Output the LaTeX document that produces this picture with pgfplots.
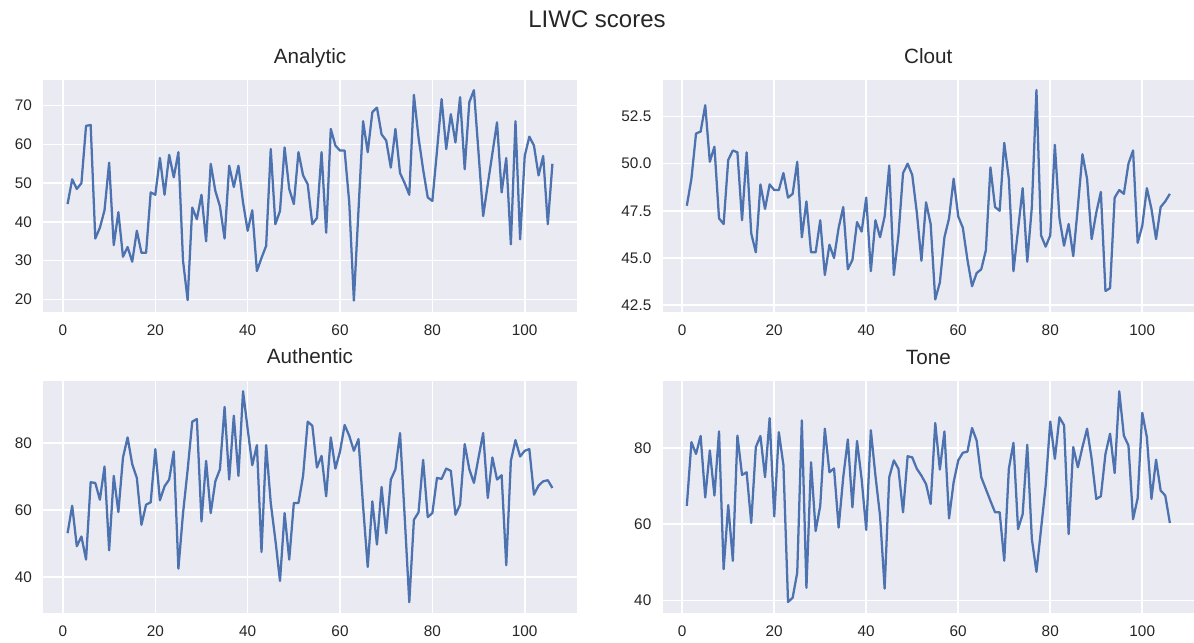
\documentclass[border=0pt]{standalone}
\usepackage{fontspec}
\setmainfont{Liberation Sans}
\usepackage{pgfplots}
\pgfplotsset{compat=1.18}
\definecolor{bgc}{HTML}{EAEAF2}
\definecolor{lc}{HTML}{4C72B0}
\definecolor{tc}{HTML}{262626}
\pgfplotsset{liwc/.style={
 scale only axis, width=400pt, height=174pt, anchor=south west,
 axis background/.style={fill=bgc},
 axis line style={draw=none},
 major tick length=0pt,
 grid=major, major grid style={white, line width=1.2pt},
 xmin=-4.25, xmax=111.25, xtick={0,20,...,100},
 tick label style={font=\fontsize{11.5}{13}\selectfont, text=tc},
 /pgf/number format/assume math mode=true,
 xticklabel style={yshift=-6.5pt},
 yticklabel style={xshift=-5pt},
 title style={font=\fontsize{15.5}{18}\selectfont, text=tc, at={(0.5,1)}, anchor=base, yshift=6.5pt},
 cycle list={{lc, mark=none}},
 every axis plot/.append style={line width=1.7pt, line join=round},
}}
\begin{document}
\begin{tikzpicture}
\useasboundingbox (0,0) rectangle (895.5pt,481.5pt);
\node[font=\fontsize{18}{21}\selectfont, text=tc, anchor=base] at (447.75pt,461pt) {LIWC scores};

\begin{axis}[liwc, at={(32.5pt,247.7pt)}, title={Analytic}, ymin=16.8, ymax=76.7, ytick={20,30,...,70}]
\addplot coordinates {(1,44.6)(2,51)(3,48.5)(4,50)(5,64.8)(6,65)(7,35.7)(8,38.5)(9,43)(10,55.3)
(11,34)(12,42.5)(13,31)(14,33.5)(15,29.7)(16,37.7)(17,32)(18,32)(19,47.6)(20,47)
(21,56.5)(22,47)(23,57.3)(24,51.5)(25,58)(26,30)(27,19.8)(28,43.7)(29,40.7)(30,47)
(31,35)(32,55)(33,48)(34,44)(35,35.7)(36,54.5)(37,49)(38,54.5)(39,45)(40,37.7)
(41,43)(42,27.3)(43,30.7)(44,33.8)(45,58.8)(46,39.4)(47,42.8)(48,59.2)(49,48.5)(50,44.6)
(51,58)(52,52)(53,49.7)(54,39.4)(55,41)(56,58)(57,37.2)(58,64)(59,59.7)(60,58.4)
(61,58.4)(62,45)(63,19.7)(64,43)(65,66)(66,58)(67,68.3)(68,69.5)(69,62.6)(70,61)
(71,54)(72,64)(73,52.6)(74,50)(75,47)(76,72.8)(77,61.8)(78,53.5)(79,46.3)(80,45.4)
(81,58.3)(82,71.7)(83,58.8)(84,67.8)(85,60.5)(86,72.2)(87,53.6)(88,70.9)(89,74)(90,57.8)
(91,41.5)(92,49.7)(93,57.7)(94,65.7)(95,47.6)(96,56.5)(97,34.2)(98,66)(99,35.5)(100,57)
(101,62)(102,59.7)(103,52)(104,57)(105,39.4)(106,55)};
\end{axis}

\begin{axis}[liwc, width=398.5pt, at={(497pt,247.7pt)}, title={Clout}, ymin=42.15, ymax=54.45,
 ytick={42.5,45,47.5,50,52.5}, yticklabels={42.5,45.0,47.5,50.0,52.5}]
\addplot coordinates {(1,47.77)(2,49.2)(3,51.6)(4,51.7)(5,53.1)(6,50.1)(7,50.9)(8,47.1)(9,46.8)(10,50.2)
(11,50.7)(12,50.6)(13,47.0)(14,50.6)(15,46.3)(16,45.3)(17,48.9)(18,47.6)(19,48.9)(20,48.6)
(21,48.6)(22,49.5)(23,48.2)(24,48.4)(25,50.1)(26,46.1)(27,48.0)(28,45.3)(29,45.3)(30,47.0)
(31,44.1)(32,45.7)(33,45.0)(34,46.6)(35,47.7)(36,44.4)(37,44.9)(38,46.9)(39,46.4)(40,48.2)
(41,44.3)(42,47.0)(43,46.1)(44,47.2)(45,49.9)(46,44.1)(47,46.2)(48,49.5)(49,50.0)(50,49.4)
(51,47.4)(52,44.85)(53,47.95)(54,46.8)(55,42.8)(56,43.7)(57,46.1)(58,47.1)(59,49.2)(60,47.2)
(61,46.6)(62,44.9)(63,43.5)(64,44.2)(65,44.4)(66,45.4)(67,49.8)(68,47.7)(69,47.5)(70,51.1)
(71,49.2)(72,44.3)(73,46.5)(74,48.7)(75,44.8)(76,47.7)(77,53.9)(78,46.2)(79,45.6)(80,46.2)
(81,51.0)(82,47.1)(83,45.65)(84,46.8)(85,45.1)(86,47.7)(87,50.5)(88,49.2)(89,46.0)(90,47.4)
(91,48.5)(92,43.25)(93,43.4)(94,48.2)(95,48.6)(96,48.4)(97,50.0)(98,50.7)(99,45.8)(100,46.7)
(101,48.7)(102,47.6)(103,46.0)(104,47.7)(105,48.0)(106,48.4)};
\end{axis}

\begin{axis}[liwc, at={(32.5pt,22pt)}, title={Authentic}, ymin=29.35, ymax=98.65, ytick={40,60,80}]
\addplot coordinates {(1,53.1)(2,61.3)(3,49.2)(4,52.1)(5,45.2)(6,68.3)(7,68.1)(8,63.1)(9,73)(10,48)
(11,70.2)(12,59.4)(13,75.7)(14,81.7)(15,73.7)(16,69.6)(17,55.6)(18,61.6)(19,62.3)(20,78.2)
(21,62.9)(22,67.1)(23,69.1)(24,77.5)(25,42.5)(26,59)(27,72)(28,86.4)(29,87.2)(30,56.6)
(31,74.7)(32,59.1)(33,68.6)(34,72.2)(35,90.8)(36,69.1)(37,88.2)(38,70.2)(39,95.5)(40,84.2)
(41,73.4)(42,79.4)(43,47.5)(44,79.4)(45,62.1)(46,51.1)(47,38.8)(48,59.1)(49,45.2)(50,62.1)
(51,62.1)(52,70.2)(53,86.4)(54,85.2)(55,72.7)(56,76.2)(57,64.1)(58,81.7)(59,72.4)(60,77.5)
(61,85.4)(62,82.2)(63,77.7)(64,81.2)(65,61.1)(66,43)(67,62.6)(68,49.7)(69,66.9)(70,53.1)
(71,69.1)(72,72.2)(73,83)(74,58.1)(75,32.5)(76,57.1)(77,59.3)(78,75)(79,57.9)(80,59.1)
(81,69.6)(82,69.3)(83,72.4)(84,71.7)(85,58.6)(86,61.6)(87,79.7)(88,72.2)(89,68.1)(90,75.7)
(91,83)(92,63.6)(93,75.7)(94,69.1)(95,70.4)(96,43.5)(97,74.7)(98,80.9)(99,76)(100,77.7)
(101,78.2)(102,64.6)(103,67.3)(104,68.6)(105,68.9)(106,66.6)};
\end{axis}

\begin{axis}[liwc, width=398.5pt, at={(497pt,22pt)}, title={Tone}, ymin=36.8, ymax=97.6, ytick={40,60,80}]
\addplot coordinates {(1,64.8)(2,81.5)(3,78.4)(4,83.1)(5,67)(6,79.3)(7,67.5)(8,84.3)(9,48.2)(10,65)
(11,50.4)(12,83.2)(13,72.9)(14,73.6)(15,60.3)(16,80.2)(17,83.1)(18,72.3)(19,87.8)(20,62)
(21,84.1)(22,75.5)(23,39.6)(24,40.7)(25,47.3)(26,87.2)(27,43.3)(28,76.2)(29,58.2)(30,64.8)
(31,85)(32,73.6)(33,74.6)(34,59.1)(35,72.3)(36,82.2)(37,64.4)(38,81.8)(39,71.8)(40,58.5)
(41,84.6)(42,72.7)(43,62.2)(44,43.1)(45,72.3)(46,76.7)(47,74.5)(48,63.1)(49,77.8)(50,77.5)
(51,74.5)(52,72.7)(53,70.5)(54,65.3)(55,86.5)(56,74.3)(57,84.3)(58,61.5)(59,71)(60,76.7)
(61,78.7)(62,79)(63,85.2)(64,81.9)(65,72.3)(66,69.2)(67,66.1)(68,63.1)(69,63.1)(70,50.4)
(71,74.5)(72,81.3)(73,58.7)(74,62.6)(75,80.8)(76,56.1)(77,47.5)(78,58.7)(79,70.1)(80,86.9)
(81,77.1)(82,88)(83,85.9)(84,57.4)(85,80.2)(86,74.9)(87,80.2)(88,85)(89,77.1)(90,66.6)
(91,67.3)(92,78.4)(93,83.7)(94,73.4)(95,94.8)(96,83.2)(97,80.6)(98,61.3)(99,66.8)(100,89.2)
(101,82.8)(102,66.6)(103,76.9)(104,68.8)(105,67.5)(106,60.3)};
\end{axis}
\end{tikzpicture}
\end{document}
